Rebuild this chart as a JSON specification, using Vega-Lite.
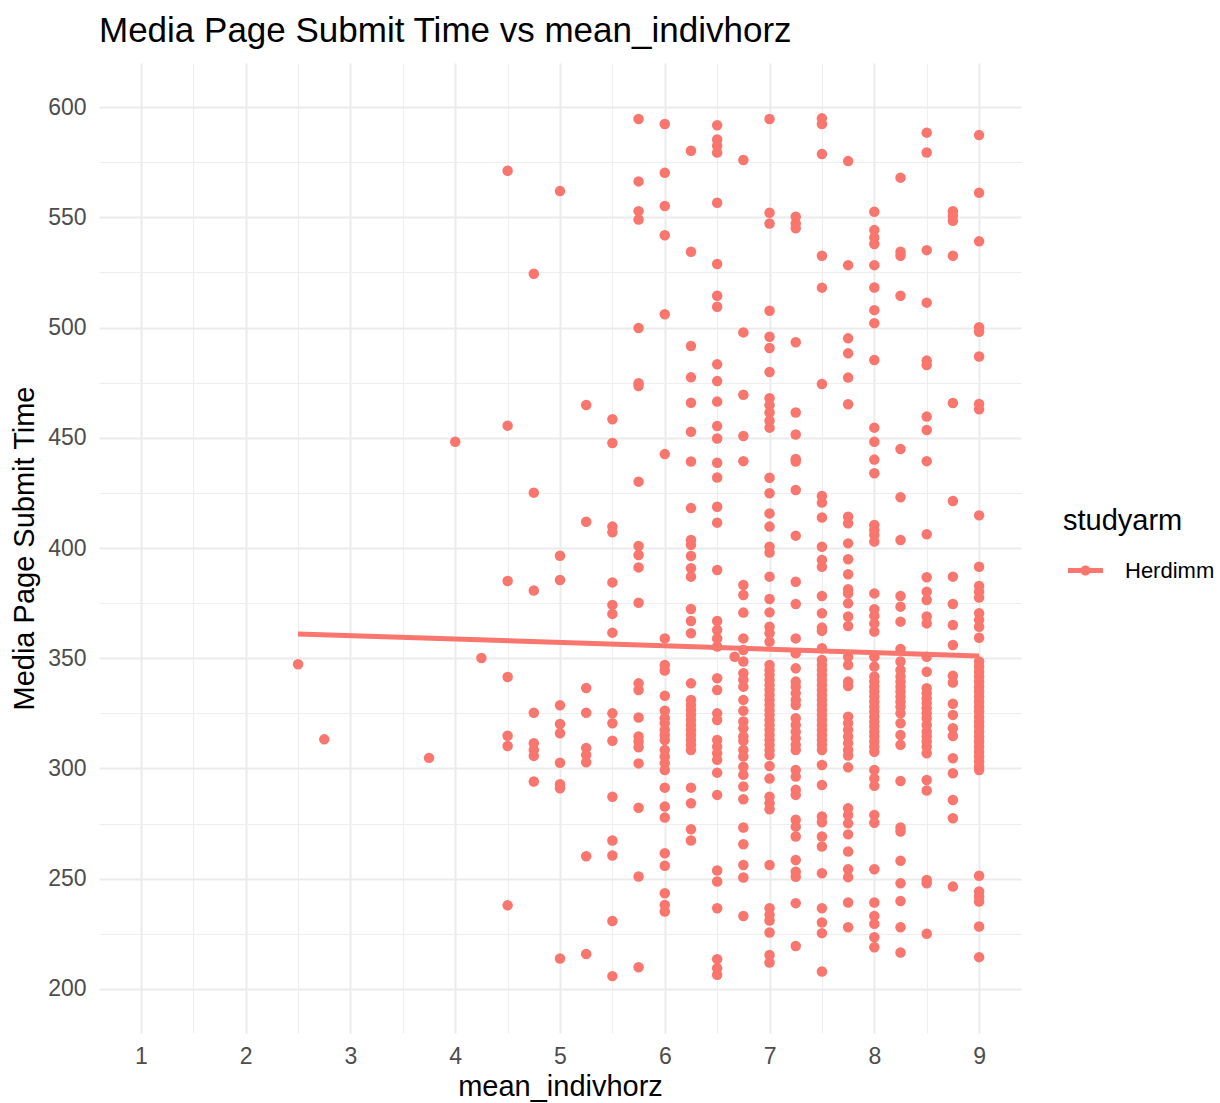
{
 "$schema": "https://vega.github.io/schema/vega-lite/v6.json",
 "width": 922, "height": 970,
 "autosize": {"type": "none"},
 "padding": {"left": 99, "top": 63, "right": 199, "bottom": 70},
 "background": "white",
 "config": {"view": {"stroke": null}, "font": "Liberation Sans"},
 "title": {"text": "Media Page Submit Time vs mean_indivhorz", "anchor": "start", "frame": "group", "fontSize": 35, "fontWeight": "normal", "color": "black", "font": "Liberation Sans", "baseline": "alphabetic", "offset": 23, "dy": 37},
 "datasets": {
  "fit": [{"mean_indivhorz": 2.5, "time": 361.0}, {"mean_indivhorz": 9, "time": 351.0}],
  "pts": [
{"mean_indivhorz":2.5,"time":347.3},{"mean_indivhorz":2.75,"time":313.2},{"mean_indivhorz":3.75,"time":304.8},{"mean_indivhorz":4,"time":448.2},{"mean_indivhorz":4.25,"time":350.1},
{"mean_indivhorz":4.5,"time":571.1},{"mean_indivhorz":4.5,"time":455.5},{"mean_indivhorz":4.5,"time":385.0},{"mean_indivhorz":4.5,"time":341.5},{"mean_indivhorz":4.5,"time":314.8},{"mean_indivhorz":4.5,"time":310.2},{"mean_indivhorz":4.5,"time":237.9},
{"mean_indivhorz":4.75,"time":524.4},{"mean_indivhorz":4.75,"time":425.1},{"mean_indivhorz":4.75,"time":380.7},{"mean_indivhorz":4.75,"time":325.3},{"mean_indivhorz":4.75,"time":311.4},{"mean_indivhorz":4.75,"time":308.4},{"mean_indivhorz":4.75,"time":305.7},{"mean_indivhorz":4.75,"time":294.1},
{"mean_indivhorz":5,"time":561.9},{"mean_indivhorz":5,"time":396.5},{"mean_indivhorz":5,"time":385.5},{"mean_indivhorz":5,"time":328.7},{"mean_indivhorz":5,"time":320.2},{"mean_indivhorz":5,"time":316.0},{"mean_indivhorz":5,"time":302.6},{"mean_indivhorz":5,"time":292.8},{"mean_indivhorz":5,"time":291.0},{"mean_indivhorz":5,"time":213.8},
{"mean_indivhorz":5.25,"time":464.9},{"mean_indivhorz":5.25,"time":411.9},{"mean_indivhorz":5.25,"time":336.5},{"mean_indivhorz":5.25,"time":325.3},{"mean_indivhorz":5.25,"time":309.3},{"mean_indivhorz":5.25,"time":306.1},{"mean_indivhorz":5.25,"time":302.8},{"mean_indivhorz":5.25,"time":260.2},{"mean_indivhorz":5.25,"time":215.8},
{"mean_indivhorz":5.5,"time":458.4},{"mean_indivhorz":5.5,"time":447.6},{"mean_indivhorz":5.5,"time":409.7},{"mean_indivhorz":5.5,"time":407.1},{"mean_indivhorz":5.5,"time":384.4},{"mean_indivhorz":5.5,"time":374.2},{"mean_indivhorz":5.5,"time":370.1},{"mean_indivhorz":5.5,"time":361.6},{"mean_indivhorz":5.5,"time":325.0},{"mean_indivhorz":5.5,"time":320.5},{"mean_indivhorz":5.5,"time":312.6},{"mean_indivhorz":5.5,"time":287.2},{"mean_indivhorz":5.5,"time":267.3},{"mean_indivhorz":5.5,"time":260.5},{"mean_indivhorz":5.5,"time":230.8},{"mean_indivhorz":5.5,"time":205.8},
{"mean_indivhorz":5.75,"time":594.6},{"mean_indivhorz":5.75,"time":566.3},{"mean_indivhorz":5.75,"time":552.8},{"mean_indivhorz":5.75,"time":549.0},{"mean_indivhorz":5.75,"time":499.8},{"mean_indivhorz":5.75,"time":474.7},{"mean_indivhorz":5.75,"time":473.5},{"mean_indivhorz":5.75,"time":430.1},{"mean_indivhorz":5.75,"time":400.9},{"mean_indivhorz":5.75,"time":396.8},{"mean_indivhorz":5.75,"time":391.2},{"mean_indivhorz":5.75,"time":375.2},{"mean_indivhorz":5.75,"time":338.6},{"mean_indivhorz":5.75,"time":335.6},{"mean_indivhorz":5.75,"time":323.1},{"mean_indivhorz":5.75,"time":314.5},{"mean_indivhorz":5.75,"time":312.2},{"mean_indivhorz":5.75,"time":309.6},{"mean_indivhorz":5.75,"time":302.3},{"mean_indivhorz":5.75,"time":282.2},{"mean_indivhorz":5.75,"time":251.0},{"mean_indivhorz":5.75,"time":209.8},
{"mean_indivhorz":6,"time":592.3},{"mean_indivhorz":6,"time":570.2},{"mean_indivhorz":6,"time":555.1},{"mean_indivhorz":6,"time":541.9},{"mean_indivhorz":6,"time":506.0},{"mean_indivhorz":6,"time":442.6},{"mean_indivhorz":6,"time":359.0},{"mean_indivhorz":6,"time":346.9},{"mean_indivhorz":6,"time":344.4},{"mean_indivhorz":6,"time":333.0},{"mean_indivhorz":6,"time":326.2},{"mean_indivhorz":6,"time":322.8},{"mean_indivhorz":6,"time":320.5},{"mean_indivhorz":6,"time":317.5},{"mean_indivhorz":6,"time":315.2},{"mean_indivhorz":6,"time":312.9},{"mean_indivhorz":6,"time":308.4},{"mean_indivhorz":6,"time":305.4},{"mean_indivhorz":6,"time":302.4},{"mean_indivhorz":6,"time":299.3},{"mean_indivhorz":6,"time":291.3},{"mean_indivhorz":6,"time":282.7},{"mean_indivhorz":6,"time":277.7},{"mean_indivhorz":6,"time":261.5},{"mean_indivhorz":6,"time":255.9},{"mean_indivhorz":6,"time":243.4},{"mean_indivhorz":6,"time":238.1},{"mean_indivhorz":6,"time":235.1},
{"mean_indivhorz":6.25,"time":580.2},{"mean_indivhorz":6.25,"time":534.4},{"mean_indivhorz":6.25,"time":491.6},{"mean_indivhorz":6.25,"time":477.4},{"mean_indivhorz":6.25,"time":465.9},{"mean_indivhorz":6.25,"time":452.7},{"mean_indivhorz":6.25,"time":439.2},{"mean_indivhorz":6.25,"time":418.1},{"mean_indivhorz":6.25,"time":403.6},{"mean_indivhorz":6.25,"time":401.4},{"mean_indivhorz":6.25,"time":396.4},{"mean_indivhorz":6.25,"time":390.8},{"mean_indivhorz":6.25,"time":387.0},{"mean_indivhorz":6.25,"time":372.3},{"mean_indivhorz":6.25,"time":366.9},{"mean_indivhorz":6.25,"time":361.3},{"mean_indivhorz":6.25,"time":338.6},{"mean_indivhorz":6.25,"time":331.1},{"mean_indivhorz":6.25,"time":328.8},{"mean_indivhorz":6.25,"time":326.5},{"mean_indivhorz":6.25,"time":324.3},{"mean_indivhorz":6.25,"time":322.0},{"mean_indivhorz":6.25,"time":319.7},{"mean_indivhorz":6.25,"time":317.5},{"mean_indivhorz":6.25,"time":315.2},{"mean_indivhorz":6.25,"time":312.9},{"mean_indivhorz":6.25,"time":310.7},{"mean_indivhorz":6.25,"time":308.4},{"mean_indivhorz":6.25,"time":291.3},{"mean_indivhorz":6.25,"time":284.2},{"mean_indivhorz":6.25,"time":272.4},{"mean_indivhorz":6.25,"time":267.3},
{"mean_indivhorz":6.5,"time":591.8},{"mean_indivhorz":6.5,"time":585.3},{"mean_indivhorz":6.5,"time":582.5},{"mean_indivhorz":6.5,"time":579.4},{"mean_indivhorz":6.5,"time":556.6},{"mean_indivhorz":6.5,"time":528.8},{"mean_indivhorz":6.5,"time":514.4},{"mean_indivhorz":6.5,"time":509.4},{"mean_indivhorz":6.5,"time":483.3},{"mean_indivhorz":6.5,"time":475.7},{"mean_indivhorz":6.5,"time":466.4},{"mean_indivhorz":6.5,"time":455.3},{"mean_indivhorz":6.5,"time":449.7},{"mean_indivhorz":6.5,"time":438.7},{"mean_indivhorz":6.5,"time":432.0},{"mean_indivhorz":6.5,"time":418.7},{"mean_indivhorz":6.5,"time":411.5},{"mean_indivhorz":6.5,"time":390.0},{"mean_indivhorz":6.5,"time":366.9},{"mean_indivhorz":6.5,"time":362.8},{"mean_indivhorz":6.5,"time":359.0},{"mean_indivhorz":6.5,"time":355.3},{"mean_indivhorz":6.5,"time":340.9},{"mean_indivhorz":6.5,"time":335.6},{"mean_indivhorz":6.5,"time":325.0},{"mean_indivhorz":6.5,"time":322.0},{"mean_indivhorz":6.5,"time":312.9},{"mean_indivhorz":6.5,"time":309.9},{"mean_indivhorz":6.5,"time":306.9},{"mean_indivhorz":6.5,"time":303.9},{"mean_indivhorz":6.5,"time":298.1},{"mean_indivhorz":6.5,"time":288.0},{"mean_indivhorz":6.5,"time":253.7},{"mean_indivhorz":6.5,"time":248.7},{"mean_indivhorz":6.5,"time":236.6},{"mean_indivhorz":6.5,"time":213.5},{"mean_indivhorz":6.5,"time":209.4},{"mean_indivhorz":6.5,"time":206.4},
{"mean_indivhorz":6.6667,"time":350.7},
{"mean_indivhorz":6.75,"time":576.0},{"mean_indivhorz":6.75,"time":497.8},{"mean_indivhorz":6.75,"time":469.5},{"mean_indivhorz":6.75,"time":450.8},{"mean_indivhorz":6.75,"time":439.4},{"mean_indivhorz":6.75,"time":383.2},{"mean_indivhorz":6.75,"time":378.7},{"mean_indivhorz":6.75,"time":370.7},{"mean_indivhorz":6.75,"time":359.0},{"mean_indivhorz":6.75,"time":353.7},{"mean_indivhorz":6.75,"time":348.5},{"mean_indivhorz":6.75,"time":343.2},{"mean_indivhorz":6.75,"time":340.2},{"mean_indivhorz":6.75,"time":337.1},{"mean_indivhorz":6.75,"time":331.1},{"mean_indivhorz":6.75,"time":326.2},{"mean_indivhorz":6.75,"time":321.3},{"mean_indivhorz":6.75,"time":318.2},{"mean_indivhorz":6.75,"time":314.5},{"mean_indivhorz":6.75,"time":312.5},{"mean_indivhorz":6.75,"time":308.4},{"mean_indivhorz":6.75,"time":305.4},{"mean_indivhorz":6.75,"time":300.8},{"mean_indivhorz":6.75,"time":297.1},{"mean_indivhorz":6.75,"time":291.8},{"mean_indivhorz":6.75,"time":286.0},{"mean_indivhorz":6.75,"time":273.2},{"mean_indivhorz":6.75,"time":265.6},{"mean_indivhorz":6.75,"time":256.2},{"mean_indivhorz":6.75,"time":250.5},{"mean_indivhorz":6.75,"time":233.1},
{"mean_indivhorz":7,"time":594.6},{"mean_indivhorz":7,"time":552.1},{"mean_indivhorz":7,"time":547.2},{"mean_indivhorz":7,"time":507.6},{"mean_indivhorz":7,"time":495.8},{"mean_indivhorz":7,"time":490.7},{"mean_indivhorz":7,"time":479.8},{"mean_indivhorz":7,"time":467.9},{"mean_indivhorz":7,"time":464.8},{"mean_indivhorz":7,"time":461.5},{"mean_indivhorz":7,"time":457.7},{"mean_indivhorz":7,"time":454.6},{"mean_indivhorz":7,"time":431.9},{"mean_indivhorz":7,"time":424.8},{"mean_indivhorz":7,"time":415.7},{"mean_indivhorz":7,"time":409.7},{"mean_indivhorz":7,"time":400.6},{"mean_indivhorz":7,"time":397.9},{"mean_indivhorz":7,"time":387.0},{"mean_indivhorz":7,"time":376.9},{"mean_indivhorz":7,"time":370.8},{"mean_indivhorz":7,"time":364.3},{"mean_indivhorz":7,"time":361.3},{"mean_indivhorz":7,"time":357.5},{"mean_indivhorz":7,"time":346.9},{"mean_indivhorz":7,"time":344.7},{"mean_indivhorz":7,"time":342.4},{"mean_indivhorz":7,"time":340.1},{"mean_indivhorz":7,"time":337.9},{"mean_indivhorz":7,"time":335.6},{"mean_indivhorz":7,"time":333.3},{"mean_indivhorz":7,"time":331.1},{"mean_indivhorz":7,"time":328.8},{"mean_indivhorz":7,"time":326.5},{"mean_indivhorz":7,"time":324.3},{"mean_indivhorz":7,"time":322.0},{"mean_indivhorz":7,"time":319.7},{"mean_indivhorz":7,"time":317.5},{"mean_indivhorz":7,"time":315.2},{"mean_indivhorz":7,"time":312.9},{"mean_indivhorz":7,"time":310.7},{"mean_indivhorz":7,"time":308.4},{"mean_indivhorz":7,"time":306.1},{"mean_indivhorz":7,"time":301.1},{"mean_indivhorz":7,"time":295.4},{"mean_indivhorz":7,"time":287.2},{"mean_indivhorz":7,"time":284.2},{"mean_indivhorz":7,"time":281.5},{"mean_indivhorz":7,"time":256.2},{"mean_indivhorz":7,"time":236.6},{"mean_indivhorz":7,"time":233.6},{"mean_indivhorz":7,"time":231.0},{"mean_indivhorz":7,"time":225.6},{"mean_indivhorz":7,"time":215.4},{"mean_indivhorz":7,"time":212.0},
{"mean_indivhorz":7.25,"time":550.3},{"mean_indivhorz":7.25,"time":547.2},{"mean_indivhorz":7.25,"time":545.0},{"mean_indivhorz":7.25,"time":493.3},{"mean_indivhorz":7.25,"time":461.5},{"mean_indivhorz":7.25,"time":451.5},{"mean_indivhorz":7.25,"time":440.4},{"mean_indivhorz":7.25,"time":439.2},{"mean_indivhorz":7.25,"time":426.3},{"mean_indivhorz":7.25,"time":405.6},{"mean_indivhorz":7.25,"time":384.7},{"mean_indivhorz":7.25,"time":374.6},{"mean_indivhorz":7.25,"time":359.0},{"mean_indivhorz":7.25,"time":352.2},{"mean_indivhorz":7.25,"time":345.4},{"mean_indivhorz":7.25,"time":339.4},{"mean_indivhorz":7.25,"time":337.1},{"mean_indivhorz":7.25,"time":334.1},{"mean_indivhorz":7.25,"time":331.1},{"mean_indivhorz":7.25,"time":328.8},{"mean_indivhorz":7.25,"time":322.8},{"mean_indivhorz":7.25,"time":319.7},{"mean_indivhorz":7.25,"time":316.7},{"mean_indivhorz":7.25,"time":313.7},{"mean_indivhorz":7.25,"time":310.7},{"mean_indivhorz":7.25,"time":308.4},{"mean_indivhorz":7.25,"time":299.3},{"mean_indivhorz":7.25,"time":296.3},{"mean_indivhorz":7.25,"time":290.3},{"mean_indivhorz":7.25,"time":288.0},{"mean_indivhorz":7.25,"time":276.7},{"mean_indivhorz":7.25,"time":273.6},{"mean_indivhorz":7.25,"time":269.1},{"mean_indivhorz":7.25,"time":258.5},{"mean_indivhorz":7.25,"time":253.2},{"mean_indivhorz":7.25,"time":250.9},{"mean_indivhorz":7.25,"time":238.9},{"mean_indivhorz":7.25,"time":219.5},
{"mean_indivhorz":7.5,"time":594.9},{"mean_indivhorz":7.5,"time":592.3},{"mean_indivhorz":7.5,"time":578.7},{"mean_indivhorz":7.5,"time":532.6},{"mean_indivhorz":7.5,"time":518.1},{"mean_indivhorz":7.5,"time":474.4},{"mean_indivhorz":7.5,"time":423.6},{"mean_indivhorz":7.5,"time":420.6},{"mean_indivhorz":7.5,"time":413.8},{"mean_indivhorz":7.5,"time":400.6},{"mean_indivhorz":7.5,"time":394.6},{"mean_indivhorz":7.5,"time":391.5},{"mean_indivhorz":7.5,"time":378.2},{"mean_indivhorz":7.5,"time":370.4},{"mean_indivhorz":7.5,"time":363.9},{"mean_indivhorz":7.5,"time":362.4},{"mean_indivhorz":7.5,"time":354.5},{"mean_indivhorz":7.5,"time":349.2},{"mean_indivhorz":7.5,"time":346.9},{"mean_indivhorz":7.5,"time":344.7},{"mean_indivhorz":7.5,"time":342.4},{"mean_indivhorz":7.5,"time":340.1},{"mean_indivhorz":7.5,"time":337.9},{"mean_indivhorz":7.5,"time":335.6},{"mean_indivhorz":7.5,"time":333.3},{"mean_indivhorz":7.5,"time":331.1},{"mean_indivhorz":7.5,"time":328.8},{"mean_indivhorz":7.5,"time":326.5},{"mean_indivhorz":7.5,"time":324.3},{"mean_indivhorz":7.5,"time":322.0},{"mean_indivhorz":7.5,"time":319.7},{"mean_indivhorz":7.5,"time":317.5},{"mean_indivhorz":7.5,"time":315.2},{"mean_indivhorz":7.5,"time":312.9},{"mean_indivhorz":7.5,"time":310.7},{"mean_indivhorz":7.5,"time":308.4},{"mean_indivhorz":7.5,"time":301.6},{"mean_indivhorz":7.5,"time":292.5},{"mean_indivhorz":7.5,"time":278.2},{"mean_indivhorz":7.5,"time":275.6},{"mean_indivhorz":7.5,"time":269.1},{"mean_indivhorz":7.5,"time":264.6},{"mean_indivhorz":7.5,"time":252.5},{"mean_indivhorz":7.5,"time":236.6},{"mean_indivhorz":7.5,"time":230.1},{"mean_indivhorz":7.5,"time":225.3},{"mean_indivhorz":7.5,"time":207.9},
{"mean_indivhorz":7.75,"time":575.5},{"mean_indivhorz":7.75,"time":528.3},{"mean_indivhorz":7.75,"time":495.1},{"mean_indivhorz":7.75,"time":488.3},{"mean_indivhorz":7.75,"time":477.3},{"mean_indivhorz":7.75,"time":465.2},{"mean_indivhorz":7.75,"time":414.2},{"mean_indivhorz":7.75,"time":411.2},{"mean_indivhorz":7.75,"time":402.1},{"mean_indivhorz":7.75,"time":394.9},{"mean_indivhorz":7.75,"time":388.1},{"mean_indivhorz":7.75,"time":381.3},{"mean_indivhorz":7.75,"time":379.4},{"mean_indivhorz":7.75,"time":374.9},{"mean_indivhorz":7.75,"time":368.9},{"mean_indivhorz":7.75,"time":364.6},{"mean_indivhorz":7.75,"time":350.7},{"mean_indivhorz":7.75,"time":346.9},{"mean_indivhorz":7.75,"time":339.4},{"mean_indivhorz":7.75,"time":337.4},{"mean_indivhorz":7.75,"time":323.5},{"mean_indivhorz":7.75,"time":320.5},{"mean_indivhorz":7.75,"time":317.5},{"mean_indivhorz":7.75,"time":314.5},{"mean_indivhorz":7.75,"time":311.4},{"mean_indivhorz":7.75,"time":308.4},{"mean_indivhorz":7.75,"time":305.9},{"mean_indivhorz":7.75,"time":300.5},{"mean_indivhorz":7.75,"time":281.9},{"mean_indivhorz":7.75,"time":278.9},{"mean_indivhorz":7.75,"time":275.1},{"mean_indivhorz":7.75,"time":270.1},{"mean_indivhorz":7.75,"time":262.3},{"mean_indivhorz":7.75,"time":254.3},{"mean_indivhorz":7.75,"time":250.7},{"mean_indivhorz":7.75,"time":239.2},{"mean_indivhorz":7.75,"time":228.0},
{"mean_indivhorz":8,"time":552.5},{"mean_indivhorz":8,"time":544.2},{"mean_indivhorz":8,"time":540.9},{"mean_indivhorz":8,"time":537.9},{"mean_indivhorz":8,"time":528.3},{"mean_indivhorz":8,"time":518.2},{"mean_indivhorz":8,"time":507.9},{"mean_indivhorz":8,"time":502.0},{"mean_indivhorz":8,"time":485.3},{"mean_indivhorz":8,"time":454.6},{"mean_indivhorz":8,"time":448.2},{"mean_indivhorz":8,"time":440.1},{"mean_indivhorz":8,"time":433.9},{"mean_indivhorz":8,"time":410.4},{"mean_indivhorz":8,"time":408.2},{"mean_indivhorz":8,"time":405.9},{"mean_indivhorz":8,"time":402.9},{"mean_indivhorz":8,"time":379.4},{"mean_indivhorz":8,"time":372.2},{"mean_indivhorz":8,"time":369.2},{"mean_indivhorz":8,"time":365.8},{"mean_indivhorz":8,"time":362.1},{"mean_indivhorz":8,"time":350.7},{"mean_indivhorz":8,"time":346.2},{"mean_indivhorz":8,"time":341.7},{"mean_indivhorz":8,"time":339.4},{"mean_indivhorz":8,"time":337.1},{"mean_indivhorz":8,"time":334.9},{"mean_indivhorz":8,"time":332.6},{"mean_indivhorz":8,"time":330.3},{"mean_indivhorz":8,"time":328.0},{"mean_indivhorz":8,"time":325.8},{"mean_indivhorz":8,"time":323.5},{"mean_indivhorz":8,"time":321.2},{"mean_indivhorz":8,"time":319.0},{"mean_indivhorz":8,"time":316.7},{"mean_indivhorz":8,"time":314.5},{"mean_indivhorz":8,"time":312.2},{"mean_indivhorz":8,"time":309.9},{"mean_indivhorz":8,"time":307.6},{"mean_indivhorz":8,"time":299.3},{"mean_indivhorz":8,"time":295.5},{"mean_indivhorz":8,"time":292.1},{"mean_indivhorz":8,"time":278.9},{"mean_indivhorz":8,"time":275.4},{"mean_indivhorz":8,"time":254.3},{"mean_indivhorz":8,"time":239.2},{"mean_indivhorz":8,"time":233.1},{"mean_indivhorz":8,"time":229.5},{"mean_indivhorz":8,"time":223.4},{"mean_indivhorz":8,"time":218.9},
{"mean_indivhorz":8.25,"time":568.0},{"mean_indivhorz":8.25,"time":534.4},{"mean_indivhorz":8.25,"time":532.6},{"mean_indivhorz":8.25,"time":514.4},{"mean_indivhorz":8.25,"time":444.9},{"mean_indivhorz":8.25,"time":423.0},{"mean_indivhorz":8.25,"time":403.6},{"mean_indivhorz":8.25,"time":378.2},{"mean_indivhorz":8.25,"time":373.4},{"mean_indivhorz":8.25,"time":366.6},{"mean_indivhorz":8.25,"time":354.2},{"mean_indivhorz":8.25,"time":348.5},{"mean_indivhorz":8.25,"time":344.7},{"mean_indivhorz":8.25,"time":341.7},{"mean_indivhorz":8.25,"time":339.4},{"mean_indivhorz":8.25,"time":337.1},{"mean_indivhorz":8.25,"time":334.9},{"mean_indivhorz":8.25,"time":332.6},{"mean_indivhorz":8.25,"time":330.3},{"mean_indivhorz":8.25,"time":328.0},{"mean_indivhorz":8.25,"time":325.0},{"mean_indivhorz":8.25,"time":320.5},{"mean_indivhorz":8.25,"time":315.2},{"mean_indivhorz":8.25,"time":310.7},{"mean_indivhorz":8.25,"time":294.3},{"mean_indivhorz":8.25,"time":273.2},{"mean_indivhorz":8.25,"time":271.4},{"mean_indivhorz":8.25,"time":258.1},{"mean_indivhorz":8.25,"time":247.9},{"mean_indivhorz":8.25,"time":239.9},{"mean_indivhorz":8.25,"time":228.0},{"mean_indivhorz":8.25,"time":216.5},
{"mean_indivhorz":8.5,"time":588.4},{"mean_indivhorz":8.5,"time":579.4},{"mean_indivhorz":8.5,"time":535.1},{"mean_indivhorz":8.5,"time":511.3},{"mean_indivhorz":8.5,"time":485.0},{"mean_indivhorz":8.5,"time":483.0},{"mean_indivhorz":8.5,"time":459.6},{"mean_indivhorz":8.5,"time":453.5},{"mean_indivhorz":8.5,"time":439.4},{"mean_indivhorz":8.5,"time":406.2},{"mean_indivhorz":8.5,"time":386.7},{"mean_indivhorz":8.5,"time":380.2},{"mean_indivhorz":8.5,"time":376.4},{"mean_indivhorz":8.5,"time":368.9},{"mean_indivhorz":8.5,"time":365.8},{"mean_indivhorz":8.5,"time":350.7},{"mean_indivhorz":8.5,"time":343.9},{"mean_indivhorz":8.5,"time":336.4},{"mean_indivhorz":8.5,"time":334.1},{"mean_indivhorz":8.5,"time":331.8},{"mean_indivhorz":8.5,"time":329.6},{"mean_indivhorz":8.5,"time":327.3},{"mean_indivhorz":8.5,"time":325.0},{"mean_indivhorz":8.5,"time":322.8},{"mean_indivhorz":8.5,"time":319.7},{"mean_indivhorz":8.5,"time":316.7},{"mean_indivhorz":8.5,"time":314.5},{"mean_indivhorz":8.5,"time":312.2},{"mean_indivhorz":8.5,"time":309.9},{"mean_indivhorz":8.5,"time":306.9},{"mean_indivhorz":8.5,"time":294.8},{"mean_indivhorz":8.5,"time":290.0},{"mean_indivhorz":8.5,"time":249.4},{"mean_indivhorz":8.5,"time":247.9},{"mean_indivhorz":8.5,"time":225.0},
{"mean_indivhorz":8.75,"time":552.8},{"mean_indivhorz":8.75,"time":550.7},{"mean_indivhorz":8.75,"time":548.4},{"mean_indivhorz":8.75,"time":532.6},{"mean_indivhorz":8.75,"time":465.8},{"mean_indivhorz":8.75,"time":421.3},{"mean_indivhorz":8.75,"time":387.0},{"mean_indivhorz":8.75,"time":374.6},{"mean_indivhorz":8.75,"time":365.1},{"mean_indivhorz":8.75,"time":356.0},{"mean_indivhorz":8.75,"time":342.0},{"mean_indivhorz":8.75,"time":339.0},{"mean_indivhorz":8.75,"time":329.3},{"mean_indivhorz":8.75,"time":324.3},{"mean_indivhorz":8.75,"time":318.2},{"mean_indivhorz":8.75,"time":314.7},{"mean_indivhorz":8.75,"time":304.6},{"mean_indivhorz":8.75,"time":297.8},{"mean_indivhorz":8.75,"time":285.7},{"mean_indivhorz":8.75,"time":277.4},{"mean_indivhorz":8.75,"time":246.4},
{"mean_indivhorz":9,"time":587.3},{"mean_indivhorz":9,"time":561.1},{"mean_indivhorz":9,"time":539.1},{"mean_indivhorz":9,"time":500.1},{"mean_indivhorz":9,"time":498.1},{"mean_indivhorz":9,"time":486.9},{"mean_indivhorz":9,"time":465.3},{"mean_indivhorz":9,"time":462.9},{"mean_indivhorz":9,"time":414.8},{"mean_indivhorz":9,"time":391.5},{"mean_indivhorz":9,"time":382.8},{"mean_indivhorz":9,"time":380.2},{"mean_indivhorz":9,"time":377.5},{"mean_indivhorz":9,"time":370.4},{"mean_indivhorz":9,"time":367.4},{"mean_indivhorz":9,"time":364.3},{"mean_indivhorz":9,"time":359.3},{"mean_indivhorz":9,"time":348.5},{"mean_indivhorz":9,"time":346.2},{"mean_indivhorz":9,"time":343.9},{"mean_indivhorz":9,"time":341.7},{"mean_indivhorz":9,"time":339.4},{"mean_indivhorz":9,"time":337.1},{"mean_indivhorz":9,"time":334.9},{"mean_indivhorz":9,"time":332.6},{"mean_indivhorz":9,"time":330.3},{"mean_indivhorz":9,"time":328.0},{"mean_indivhorz":9,"time":325.8},{"mean_indivhorz":9,"time":323.5},{"mean_indivhorz":9,"time":321.2},{"mean_indivhorz":9,"time":319.0},{"mean_indivhorz":9,"time":316.7},{"mean_indivhorz":9,"time":314.5},{"mean_indivhorz":9,"time":312.2},{"mean_indivhorz":9,"time":309.9},{"mean_indivhorz":9,"time":307.6},{"mean_indivhorz":9,"time":305.4},{"mean_indivhorz":9,"time":303.1},{"mean_indivhorz":9,"time":300.8},{"mean_indivhorz":9,"time":299.3},{"mean_indivhorz":9,"time":251.3},{"mean_indivhorz":9,"time":244.2},{"mean_indivhorz":9,"time":241.9},{"mean_indivhorz":9,"time":239.6},{"mean_indivhorz":9,"time":228.3},{"mean_indivhorz":9,"time":214.4}
  ]
 },
 "layer": [
  {
   "data": {"name": "pts"},
   "mark": {"type": "point", "filled": true, "size": 110, "opacity": 1},
   "encoding": {
    "x": {"field": "mean_indivhorz", "type": "quantitative", "scale": {"domain": [0.6, 9.4], "nice": false, "zero": false},
      "axis": {"orient": "bottom", "values": [1.5, 2.5, 3.5, 4.5, 5.5, 6.5, 7.5, 8.5], "grid": true, "gridColor": "#EEEEEE", "gridWidth": 1.2, "labels": false, "ticks": false, "domain": false, "title": null}},
    "y": {"field": "time", "type": "quantitative", "scale": {"domain": [180, 620], "nice": false, "zero": false},
      "axis": {"orient": "left", "values": [225, 275, 325, 375, 425, 475, 525, 575], "grid": true, "gridColor": "#EEEEEE", "gridWidth": 1.2, "labels": false, "ticks": false, "domain": false, "title": null}},
    "color": {"datum": "Herdimm", "type": "nominal", "scale": {"domain": ["Herdimm"], "range": ["#F8766D"]},
      "legend": {"orient": "none", "legendX": 964, "legendY": 444, "title": "studyarm", "titleFontSize": 29, "titleFontWeight": "normal", "titleColor": "black", "titleFont": "Liberation Sans", "titlePadding": 17, "labelFontSize": 22, "labelColor": "black", "labelFont": "Liberation Sans", "labelOffset": 22, "padding": 0, "symbolOffset": 5, "symbolSize": 1225, "symbolStrokeWidth": 0, "symbolOpacity": 1,
        "symbolType": "M-1,-0.14L1,-0.14L1,0.14L-1,0.14Z M-0.29,0A0.29,0.29 0 1,1 0.29,0A0.29,0.29 0 1,1 -0.29,0Z"}}
   }
  },
  {
   "data": {"name": "fit"},
   "mark": {"type": "line", "color": "#F8766D", "strokeWidth": 5},
   "encoding": {
    "x": {"field": "mean_indivhorz", "type": "quantitative",
      "axis": {"orient": "bottom", "values": [1, 2, 3, 4, 5, 6, 7, 8, 9], "grid": true, "gridColor": "#EBEBEB", "gridWidth": 2, "ticks": false, "domain": false, "labelFontSize": 23, "labelColor": "#4D4D4D", "labelFont": "Liberation Sans", "labelPadding": 12, "title": "mean_indivhorz", "titleFontSize": 29, "titleFontWeight": "normal", "titleColor": "black", "titleFont": "Liberation Sans", "titlePadding": 4}},
    "y": {"field": "time", "type": "quantitative",
      "axis": {"orient": "left", "values": [200, 250, 300, 350, 400, 450, 500, 550, 600], "grid": true, "gridColor": "#EBEBEB", "gridWidth": 2, "ticks": false, "domain": false, "labelFontSize": 23, "labelColor": "#4D4D4D", "labelFont": "Liberation Sans", "labelPadding": 13, "title": "Media Page Submit Time", "titleFontSize": 29, "titleFontWeight": "normal", "titleColor": "black", "titleFont": "Liberation Sans", "titlePadding": 8}}
   }
  }
 ],
 "resolve": {"axis": {"x": "independent", "y": "independent"}}
}
